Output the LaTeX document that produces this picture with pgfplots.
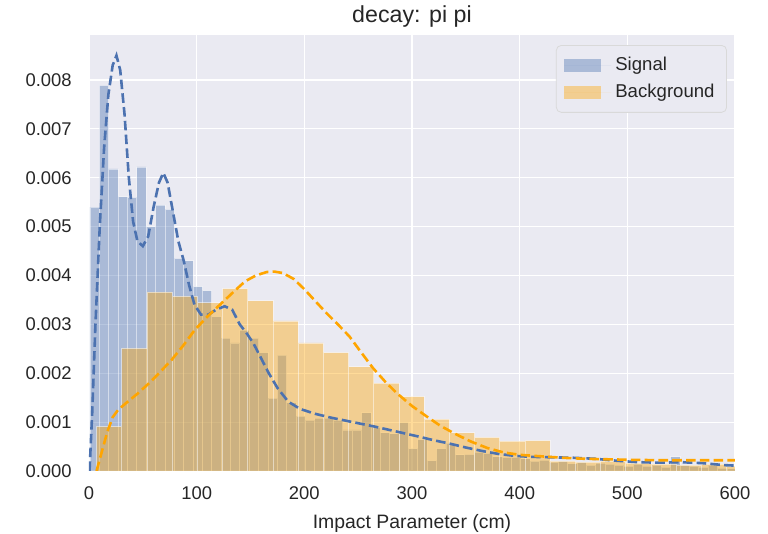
\documentclass[border=0pt]{standalone}
\usepackage{pgfplots}
\pgfplotsset{compat=1.18}
\usepackage{pgfplotstable}
\usepackage{fontspec}
\setmainfont{Liberation Sans}
\definecolor{sigblue}{HTML}{4C72B0}
\definecolor{bgorange}{HTML}{FFA500}
\definecolor{seabg}{HTML}{EAEAF2}
\definecolor{txt}{HTML}{262626}

\pgfplotstableread{
x y
0.9 0.00540
9.6 0.00789
18.3 0.00618
27.0 0.00561
35.7 0.00560
44.4 0.00622
53.1 0.00500
61.8 0.00544
70.5 0.00535
79.2 0.00435
87.9 0.00430
96.6 0.00377
105.3 0.00369
114.0 0.00316
122.7 0.00272
131.4 0.00262
140.1 0.00288
148.8 0.00272
157.5 0.00242
166.2 0.00149
174.9 0.00237
183.6 0.00140
192.3 0.00112
201.0 0.00104
209.7 0.00108
218.4 0.00108
227.1 0.00104
235.8 0.00084
244.5 0.00084
253.2 0.00119
261.9 0.00090
270.6 0.00078
279.3 0.00076
288.0 0.00099
296.7 0.00046
305.4 0.00064
314.1 0.00021
322.8 0.00046
331.5 0.00057
340.2 0.00033
348.9 0.00034
357.6 0.00039
366.3 0.00036
375.0 0.00029
383.7 0.00028
392.4 0.00028
401.1 0.00025
409.8 0.00020
418.5 0.00022
427.2 0.00018
435.9 0.00020
444.6 0.00015
453.3 0.00018
462.0 0.00012
470.7 0.00016
479.4 0.00014
488.1 0.00012
496.8 0.00010
505.5 0.00014
514.2 0.00010
522.9 0.00012
531.6 0.00008
540.3 0.00029
549.0 0.00012
557.7 0.00010
566.4 0.00008
575.1 0.00012
583.8 0.00006
592.5 0.00005
601.2 0.00005
}\sigtab

\pgfplotstableread{
x y
7.1 0.00091
30.5 0.00251
53.9 0.00366
77.3 0.00357
100.7 0.00344
124.1 0.00373
147.5 0.00348
170.9 0.00307
194.3 0.00262
217.7 0.00242
241.1 0.00213
264.5 0.00180
287.9 0.00152
311.3 0.00106
334.7 0.00078
358.1 0.00069
381.5 0.00061
404.9 0.00062
428.3 0.00020
451.7 0.00018
475.1 0.00020
498.5 0.00016
521.9 0.00014
545.3 0.00012
568.7 0.00014
592.1 0.00010
615.5 0.00010
}\bgtab

\begin{document}
\begin{tikzpicture}
\begin{axis}[name=ax,
  scale only axis, width=323pt, height=218pt,
  xmin=0, xmax=600, ymin=0, ymax=0.00892,
  axis background/.style={fill=seabg},
  axis line style={draw=none},
  major tick length=0pt,
  grid=major, grid style={white, line width=0.6pt},
  xtick={0,100,200,300,400,500,600},
  ytick={0,0.001,0.002,0.003,0.004,0.005,0.006,0.007,0.008},
  scaled y ticks=false,
  /pgf/number format/assume math mode=true,
  yticklabel style={/pgf/number format/fixed, /pgf/number format/fixed zerofill, /pgf/number format/precision=3,
    font=\fontsize{9.2}{11}\selectfont, text=txt, inner sep=0pt, anchor=east, xshift=-8.5pt},
  xticklabel style={font=\fontsize{9.2}{11}\selectfont, text=txt, inner sep=0pt, anchor=base, yshift=-14.5pt},
  title={decay: pi pi},
  title style={at={(axis description cs:0.5,1)}, anchor=base, yshift=0pt, font=\fontsize{11.6}{14}\selectfont, text=txt, inner sep=0pt},
  xlabel={Impact Parameter (cm)},
  xlabel style={at={(axis description cs:0.5,0)}, anchor=base, yshift=-29pt, font=\fontsize{9.7}{12}\selectfont, text=txt, inner sep=0pt},
  legend style={at={(0.9876,0.977)}, anchor=north east, fill=seabg, draw=black!15, rounded corners=2.5pt,
    font=\fontsize{9.3}{11}\selectfont, text=txt, inner xsep=4pt, inner ysep=3.75pt, row sep=1.5pt},
  legend cell align=left,
]
\addplot[ybar interval, fill=sigblue, fill opacity=0.4, draw=white, draw opacity=0.5, line width=0.4pt,
  legend image code/.code={\fill[sigblue, fill opacity=0.4, draw=none, sharp corners] (0pt,-3.2pt) rectangle (18.5pt,3.2pt); \path[draw=none] (0pt,0pt) -- (23.5pt,0pt);}] table {\sigtab};
\addlegendentry{Signal}
\addplot[ybar interval, fill=bgorange, fill opacity=0.4, draw=white, draw opacity=0.5, line width=0.4pt,
  legend image code/.code={\fill[bgorange, fill opacity=0.4, draw=none, sharp corners] (0pt,-3.2pt) rectangle (18.5pt,3.2pt); \path[draw=none] (0pt,0pt) -- (23.5pt,0pt);}] table {\bgtab};
\addlegendentry{Background}
\addplot[sigblue, line width=1.3pt, dash pattern=on 4.8pt off 2.1pt, forget plot] coordinates {
(0.5,0.0000) (3,0.0012) (6,0.0030) (10,0.0050) (14,0.0066) (18,0.0077) (22,0.0083) (25.5,0.0085)
(29,0.0082) (33,0.0073) (37,0.0060) (41,0.0051) (45,0.0047) (50,0.0046) (55,0.0048) (60,0.0054)
(65,0.0059) (69,0.0061) (73,0.0059) (78,0.0053) (83,0.0047) (88,0.0043) (93,0.0038) (98,0.0034)
(104,0.0032) (111,0.0032) (118,0.0033) (126,0.00337) (133,0.0033) (140,0.0030) (147,0.0028)
(153,0.0026) (160,0.0023) (167,0.0020) (175,0.0017) (185,0.00142) (196,0.00127) (210,0.00117)
(225,0.00109) (245,0.00100) (265,0.00091) (285,0.00081) (305,0.00071) (320,0.00063) (335,0.00056)
(350,0.00048) (365,0.00041) (380,0.00035) (395,0.00031) (410,0.00029) (430,0.00028) (450,0.00027)
(470,0.00025) (490,0.00021) (510,0.00018) (530,0.00017) (550,0.00018) (570,0.00016) (590,0.00012) (600,0.00011)
};
\addplot[bgorange, line width=1.3pt, dash pattern=on 4.8pt off 2.1pt, forget plot] coordinates {
(7,0.0000) (12,0.0004) (17,0.0008) (22,0.0011) (27,0.00125) (35,0.00140) (45,0.00158) (55,0.00178)
(65,0.00200) (77,0.00228) (88,0.00258) (98,0.00288) (110,0.00316) (123,0.00343) (135,0.00368)
(145,0.00388) (155,0.00400) (165,0.00407) (172,0.00408) (180,0.00405) (190,0.00393) (200,0.00372)
(210,0.00348) (221,0.00322) (232,0.00298) (242,0.00275) (253,0.00242) (264,0.00210) (275,0.00183)
(286,0.00159) (300,0.00133) (314,0.00111) (326,0.00093) (340,0.00076) (355,0.00060) (370,0.00047)
(385,0.00038) (400,0.00033) (420,0.00030) (440,0.00027) (460,0.00025) (480,0.00024) (500,0.00023)
(530,0.00022) (560,0.00022) (600,0.00022)
};
\end{axis}
\path ([shift={(-44.5pt,-31.5pt)}]ax.south west) rectangle ++(384pt,267pt);
\end{tikzpicture}
\end{document}
